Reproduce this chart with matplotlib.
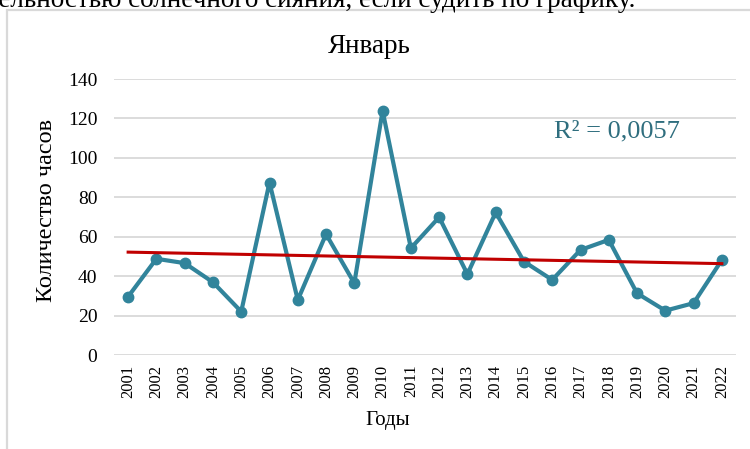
import numpy as np
import matplotlib
matplotlib.use("Agg")
import matplotlib.pyplot as plt
from matplotlib.patches import Rectangle

# data
years = list(range(2001, 2023))
hours = [29.6, 48.8, 46.6, 36.9, 22.0, 87.5, 27.9, 61.3, 36.4, 123.9, 54.2,
         69.9, 41.0, 72.3, 47.4, 38.1, 53.3, 58.4, 31.3, 22.5, 26.3, 48.2]
yticks = [0, 20, 40, 60, 80, 100, 120, 140]
title = "Январь"
ylabel = "Количество часов"
xlabel = "Годы"
r2_label = "R² = 0,0057"
top_text = "Исходя из этого можно сделать вывод о том, что в январе нет тенденции к изменению продолжительностью солнечного сияния, если судить по графику."

plt.rcParams['font.family'] = ['Liberation Serif', 'DejaVu Serif']

line_color = "#31849b"
trend_color = "#c00000"
grid_color = "#d9d9d9"

fig = plt.figure(figsize=(7.5, 4.49), dpi=100)
ax = fig.add_axes([114 / 750, 1 - 355 / 449, (736 - 114) / 750, (355 - 79) / 449])

# frame of the embedded chart (runs off the right and bottom edges)
fig.patches.append(Rectangle((7 / 750, -0.2), 1.2, 0.2 + (449 - 10) / 449,
                             transform=fig.transFigure, fill=False,
                             edgecolor=grid_color, linewidth=1.6, zorder=0))

# paragraph line above the chart, clipped by the top edge as in the source
fig.text(635 / 750, 1 - 7 / 449, top_text, ha="right", va="baseline",
         fontsize=19.5, color="black")

ax.set_axisbelow(True)
ax.yaxis.grid(True, color=grid_color, linewidth=1.3)
ax.plot(years, hours, color=line_color, linewidth=3, marker="o",
        markersize=7.5, solid_capstyle="round", zorder=3)

# linear trend
k, b = np.polyfit(years, hours, 1)
yr = np.array([years[0], years[-1]])
ax.plot(yr, k * yr + b, color=trend_color, linewidth=2.2, zorder=4)

ax.set_xlim(years[0] - 0.5, years[-1] + 0.5)
ax.set_ylim(yticks[0], yticks[-1])
ax.set_yticks(yticks)
ax.set_xticks(years)
ax.set_xticklabels([str(y) for y in years], rotation=90, fontsize=12)
ax.tick_params(axis="y", length=0, pad=12, labelsize=14)
ax.tick_params(axis="x", length=0, pad=7)
for s in ax.spines.values():
    s.set_visible(False)

ax.text(2018.3, 113.5, r2_label, ha="center", va="center",
        fontsize=19, color="#2f6e7e")

fig.text(369 / 750, 1 - 53 / 449, title, ha="center", va="baseline", fontsize=19.5)
fig.text(47 / 750, 1 - 210 / 449, ylabel, ha="center", va="center",
         rotation=90, fontsize=17.5)
fig.text(388 / 750, 1 - 420 / 449, xlabel, ha="center", va="center", fontsize=15)

fig.savefig("out.png", dpi=100)
